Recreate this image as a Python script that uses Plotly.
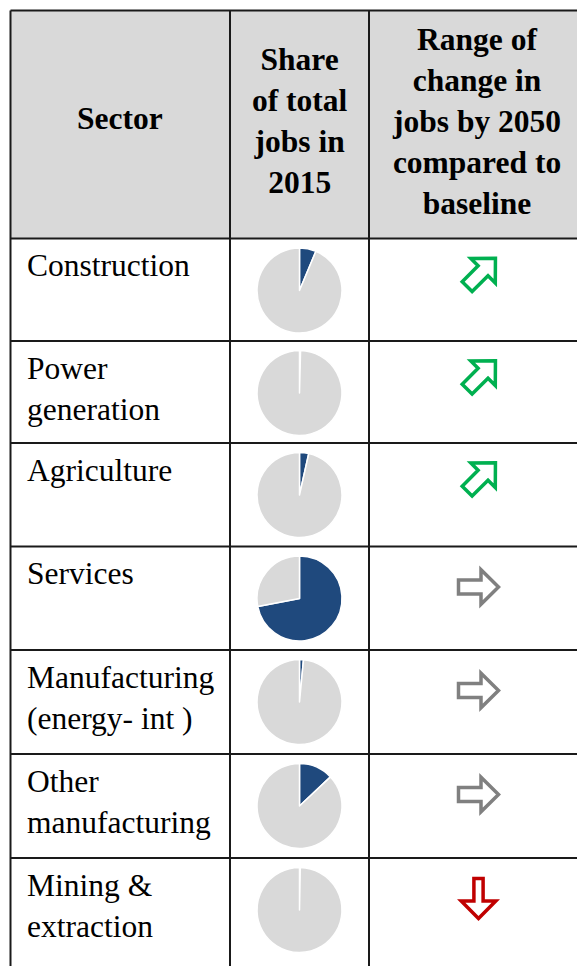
import math
import plotly.graph_objects as go

# ---------------- data ----------------
headers = ["Sector",
           "Share<br>of total<br>jobs in<br>2015",
           "Range of<br>change in<br>jobs by 2050<br>compared to<br>baseline"]
sectors = ["Construction", "Power<br>generation", "Agriculture", "Services",
           "Manufacturing<br>(energy- int )", "Other<br>manufacturing",
           "Mining &<br>extraction"]
share_2015 = [6.3, 0.4, 3.5, 72.0, 1.5, 13.0, 0.3]   # % of total jobs in 2015
trend_2050 = ["up", "up", "up", "flat", "flat", "flat", "down"]

# ---------------- layout / style ----------------
WIN_W, WIN_H = 585, 966
BODY_MARGIN = 8                      # default page margin around the figure
W, H = WIN_W - BODY_MARGIN, WIN_H - BODY_MARGIN
col_x = [10.5, 230, 369, 584]
header_top, header_bottom = 10.5, 238.5
header_text_y = [118.5, 121.5, 121.5]
row_tops = [238.5, 341, 443, 546.5, 650, 754, 858]
table_bottom = 970
LINE = "#1a1a1a"
FONT = "Liberation Serif, Times New Roman, serif"
FS = 31.5
DARK, LIGHT = "#1f497d", "#d9d9d9"
arrow_style = {
    "up":   dict(color="#00b050", angle=-45, shaft=7.0, dx=2.8, dy=34),
    "flat": dict(color="#808080", angle=0, shaft=7.1, dx=0.0, dy=40.5),
    "down": dict(color="#c00000", angle=90, shaft=4.6, dx=0.0, dy=40.5),
}
ARROW_LEN, HEAD_LEN, HEAD_HALF = 40.0, 17.5, 17.3
ARROW_CX = 478.5


def px(x):
    return (x - BODY_MARGIN) / W


def py(y):
    return 1 - (y - BODY_MARGIN) / H


fig = go.Figure()
shapes = []
annotations = []

# header background
shapes.append(dict(type="rect", xref="paper", yref="paper",
                   x0=px(col_x[0]), x1=px(col_x[-1]), y0=py(header_bottom), y1=py(header_top),
                   fillcolor=LIGHT, line=dict(width=0), layer="below"))

# grid lines
for x in col_x:
    shapes.append(dict(type="line", xref="paper", yref="paper",
                       x0=px(x), x1=px(x), y0=py(header_top), y1=py(table_bottom),
                       line=dict(color=LINE, width=2)))
for y in [header_top] + row_tops:
    shapes.append(dict(type="line", xref="paper", yref="paper",
                       x0=px(col_x[0]), x1=px(col_x[-1]), y0=py(y), y1=py(y),
                       line=dict(color=LINE, width=2)))

# header text
for i, h in enumerate(headers):
    cx = (col_x[i] + col_x[i + 1]) / 2
    annotations.append(dict(xref="paper", yref="paper", x=px(cx), y=py(header_text_y[i]),
                            xanchor="center", yanchor="middle", align="center",
                            text="<b>" + h + "</b>", showarrow=False,
                            font=dict(family=FONT, size=FS, color="black")))

# body rows
for i, (name, share, tr) in enumerate(zip(sectors, share_2015, trend_2050)):
    top = row_tops[i]
    annotations.append(dict(xref="paper", yref="paper", x=px(25), y=py(top + 7.5),
                            xanchor="left", yanchor="top", align="left",
                            text=name, showarrow=False,
                            font=dict(family=FONT, size=FS, color="black")))
    # pie
    cx, cy, r = 299.5, top + 52, 42.5
    fig.add_trace(go.Pie(values=[share, 100 - share], labels=["share", "rest"],
                         marker=dict(colors=[DARK, LIGHT], line=dict(color="white", width=1.5)),
                         sort=False, direction="clockwise", rotation=0,
                         textinfo="none", hoverinfo="skip", showlegend=False,
                         domain=dict(x=[px(cx - r), px(cx + r)], y=[py(cy + r), py(cy - r)])))
    # arrow
    st = arrow_style[tr]
    a = math.radians(st["angle"])
    hx = ARROW_LEN / 2 - HEAD_LEN
    pts = [(-ARROW_LEN / 2, -st["shaft"]), (hx, -st["shaft"]), (hx, -HEAD_HALF),
           (ARROW_LEN / 2, 0), (hx, HEAD_HALF), (hx, st["shaft"]), (-ARROW_LEN / 2, st["shaft"])]
    acx, acy = ARROW_CX + st["dx"], top + st["dy"]
    path = ""
    for k, (ux, uy) in enumerate(pts):
        rx = ux * math.cos(a) - uy * math.sin(a) + acx
        ry = ux * math.sin(a) + uy * math.cos(a) + acy
        path += ("M" if k == 0 else "L") + f"{px(rx):.5f},{py(ry):.5f}"
    path += "Z"
    shapes.append(dict(type="path", xref="paper", yref="paper", path=path,
                       line=dict(color=st["color"], width=3.5),
                       fillcolor="rgba(0,0,0,0)"))

fig.update_layout(width=W, height=H, margin=dict(l=0, r=0, t=0, b=0),
                  paper_bgcolor="white", plot_bgcolor="white",
                  shapes=shapes, annotations=annotations, showlegend=False)
fig.write_html("out.html")
